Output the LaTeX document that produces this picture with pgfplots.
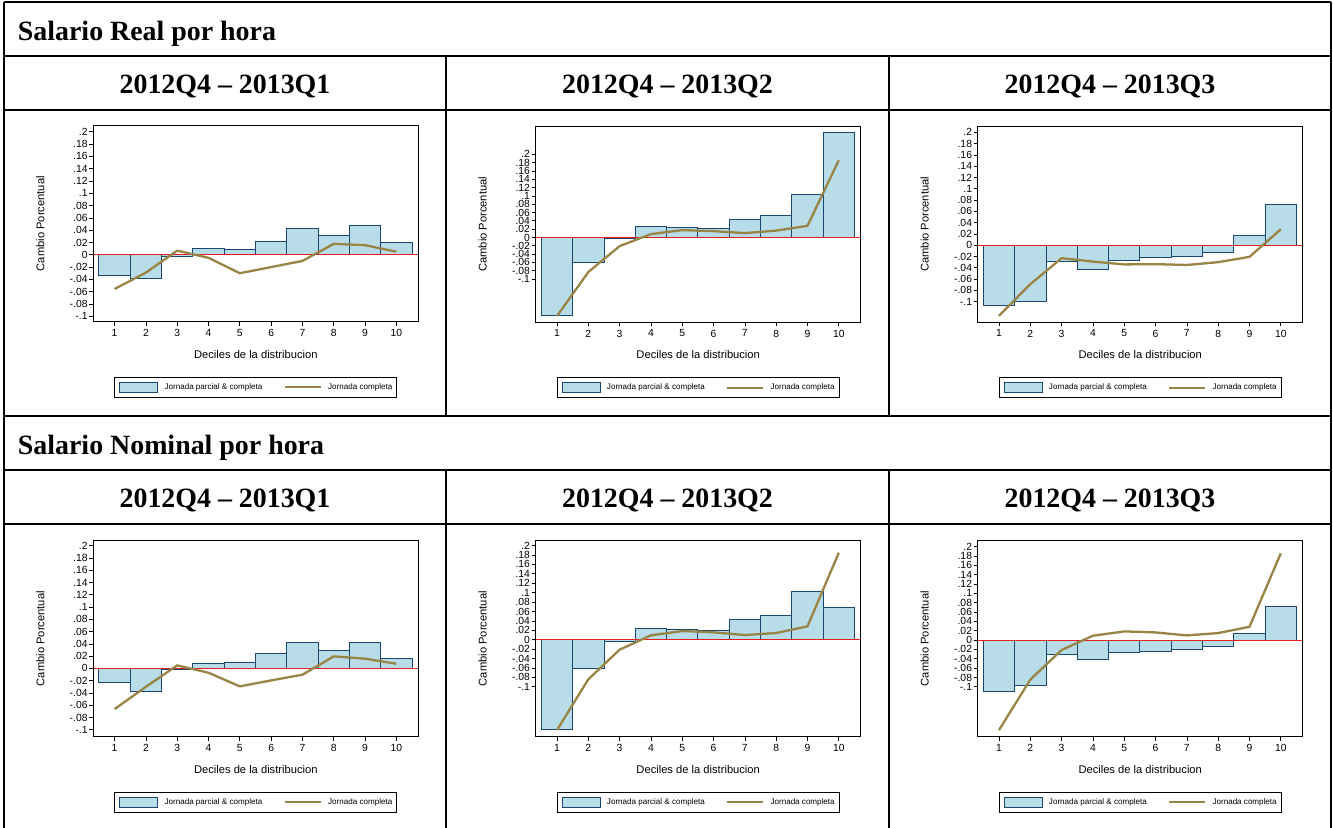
\documentclass[border=0pt]{standalone}
\usepackage{pgfplots}
\pgfplotsset{compat=1.18}
\usepackage{pgfplotstable}
\usepackage{fontspec}
\setmainfont{Liberation Sans}
\newfontfamily\headfont{Liberation Serif}

\definecolor{barfill}{RGB}{184,221,232}
\definecolor{barline}{RGB}{26,71,111}
\definecolor{fullline}{RGB}{152,132,68}
\definecolor{zeroline}{RGB}{232,30,30}

\newcommand\ticfont{\fontsize{10.4}{11}\selectfont}
\newcommand\labfont{\fontsize{11.2}{12}\selectfont}
\newcommand\legfont{\fontsize{8.1}{9}\selectfont}
\newcommand\hfont{\headfont\bfseries\fontsize{28}{30}\selectfont}

% deciles: change for all workers (total) and for full-time workers (full)
\pgfplotstableread{
d  total    full
1  -0.0333  -0.0556
2  -0.0383  -0.0290
3  -0.0020   0.0067
4   0.0100  -0.0050
5   0.0089  -0.0300
6   0.0220  -0.0200
7   0.0433  -0.0100
8   0.0317   0.0178
9   0.0483   0.0156
10  0.0194   0.0050
}\realA
\pgfplotstableread{
d  total    full
1  -0.1880  -0.1890
2  -0.0608  -0.0832
3  -0.0024  -0.0208
4   0.0264   0.0080
5   0.0240   0.0176
6   0.0216   0.0152
7   0.0440   0.0104
8   0.0528   0.0164
9   0.1032   0.0280
10  0.2528   0.1856
}\realB
\pgfplotstableread{
d  total    full
1  -0.1070  -0.1250
2  -0.0994  -0.0690
3  -0.0288  -0.0229
4  -0.0424  -0.0290
5  -0.0276  -0.0340
6  -0.0224  -0.0335
7  -0.0200  -0.0350
8  -0.0124  -0.0300
9   0.0165  -0.0206
10  0.0718   0.0282
}\realC
\pgfplotstableread{
d  total    full
1  -0.0234  -0.0663
2  -0.0380  -0.0300
3  -0.0016   0.0049
4   0.0087  -0.0071
5   0.0098  -0.0293
6   0.0239  -0.0196
7   0.0429  -0.0103
8   0.0293   0.0196
9   0.0429   0.0158
10  0.0158   0.0076
}\nomA
\pgfplotstableread{
d  total    full
1  -0.1904  -0.1918
2  -0.0609  -0.0842
3  -0.0028  -0.0212
4   0.0241   0.0092
5   0.0226   0.0184
6   0.0205   0.0156
7   0.0425   0.0099
8   0.0524   0.0142
9   0.1033   0.0283
10  0.0686   0.1847
}\nomB
\pgfplotstableread{
d  total    full
1  -0.1100  -0.1926
2  -0.0974  -0.0846
3  -0.0299  -0.0213
4  -0.0419   0.0092
5  -0.0270   0.0185
6  -0.0249   0.0163
7  -0.0206   0.0099
8  -0.0128   0.0149
9   0.0135   0.0284
10  0.0711   0.1855
}\nomC

\pgfplotsset{
  panel/.style={
    scale only axis, width=325bp, height=196bp, anchor=south west,
    xmin=0.32, xmax=10.70,
    xtick={1,2,...,10},
    ytick={-0.1,-0.08,-0.06,-0.04,-0.02,0,0.02,0.04,0.06,0.08,0.1,0.12,0.14,0.16,0.18,0.2},
    yticklabels={-.1,-.08,-.06,-.04,-.02,0,.02,.04,.06,.08,.1,.12,.14,.16,.18,.2},
    tick pos=left, tick align=outside, major tick length=4bp,
    tick style={black, line width=0.7bp},
    axis line style={black, line width=0.8bp},
    /pgf/number format/assume math mode=true,
    ticklabel style={font=\ticfont},
    yticklabel style={inner sep=1.5bp},
    xlabel={Deciles de la distribucion},
    ylabel={Cambio Porcentual},
    label style={font=\labfont},
    xlabel style={at={(axis description cs:0.5,-0.165)}, anchor=center},
    ylabel style={at={(axis description cs:-0.163,0.5)}, anchor=center},
    legend columns=2,
    legend cell align=left,
    legend style={at={(0.5,-0.281)}, anchor=north, draw=black, line width=0.8bp,
      font=\legfont, inner xsep=4.5bp, inner ysep=4.5bp,
      nodes={inner sep=0bp},
      /tikz/every odd column/.append style={column sep=6.5bp},
      /tikz/every even column/.append style={column sep=21bp}},
  },
}

% one panel: bars for all workers, zero reference, line for full-time workers
\newcommand\panel[4]{%
  \begin{axis}[panel, at={(#1)}, ymin=#2, ymax=#3]
    \addplot[ybar, bar width=1, fill=barfill, draw=barline, line width=0.9bp,
      legend image code/.code={\draw[fill=barfill, draw=barline, line width=0.8bp]
        (0bp,-5bp) rectangle (38bp,5bp);}]
      table[x=d, y=total] {#4};
    \addlegendentry{Jornada parcial \& completa}
    \addplot[zeroline, line width=0.9bp, forget plot] coordinates {(0.32,0) (10.70,0)};
    \addplot[fullline, line width=2.3bp, line join=round,
      legend image code/.code={\draw[fullline, line width=2.3bp] (0bp,0bp) -- (36bp,0bp);}]
      table[x=d, y=full] {#4};
    \addlegendentry{Jornada completa}
  \end{axis}}

\begin{document}
\begin{tikzpicture}
\useasboundingbox (0bp,0bp) rectangle (1333bp,-828bp);

% table rules
\begin{scope}[x=1bp, y=1bp, line width=1.3bp]
  \draw (4,-2) -- (1331,-2);
  \draw (4,-2) -- (4,-828);
  \draw (1331,-2) -- (1331,-828);
  \foreach \y in {56,110,416,470,524} \draw (4,-\y) -- (1331,-\y);
  \foreach \x in {446,889} {
    \draw (\x,-56) -- (\x,-416);
    \draw (\x,-470) -- (\x,-828);
  }
  % headings
  \node[anchor=base west, inner sep=0, font=\hfont] at (17.3,-40) {Salario Real por hora};
  \node[anchor=base, inner sep=0, font=\hfont] at (225,-93) {2012Q4 – 2013Q1};
  \node[anchor=base, inner sep=0, font=\hfont] at (667.5,-93) {2012Q4 – 2013Q2};
  \node[anchor=base, inner sep=0, font=\hfont] at (1110,-93) {2012Q4 – 2013Q3};
  \node[anchor=base west, inner sep=0, font=\hfont] at (17.3,-454) {Salario Nominal por hora};
  \node[anchor=base, inner sep=0, font=\hfont] at (225,-507) {2012Q4 – 2013Q1};
  \node[anchor=base, inner sep=0, font=\hfont] at (667.5,-507) {2012Q4 – 2013Q2};
  \node[anchor=base, inner sep=0, font=\hfont] at (1110,-507) {2012Q4 – 2013Q3};
\end{scope}

\panel{93.3bp,-321.7bp}{-0.1088}{0.2098}{\realA}
\panel{535.7bp,-322.3bp}{-0.204}{0.2672}{\realB}
\panel{977.7bp,-322.3bp}{-0.1365}{0.2106}{\realC}
\panel{93.3bp,-736.7bp}{-0.1114}{0.2082}{\nomA}
\panel{535.7bp,-736.7bp}{-0.206}{0.2102}{\nomB}
\panel{977.7bp,-736.7bp}{-0.2068}{0.2125}{\nomC}
\end{tikzpicture}
\end{document}
